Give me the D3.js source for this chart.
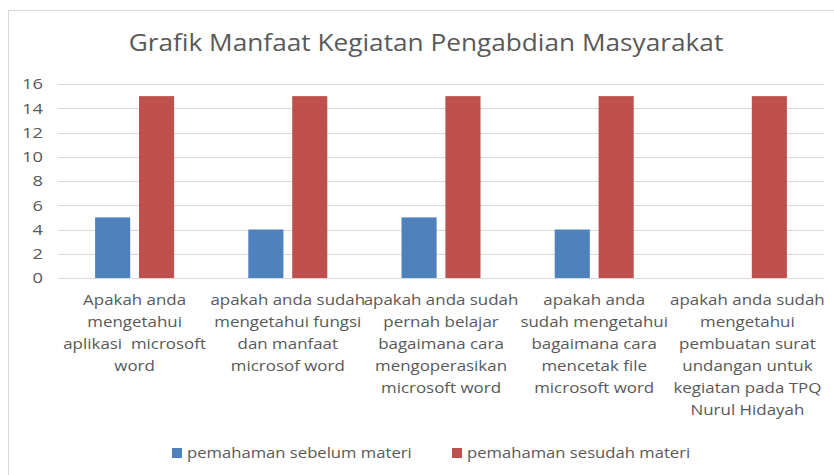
<html>
<script src="https://d3js.org/d3.v7.min.js"></script>
<style>
  body { margin: 0; background: #fff; }
  text { font-family: "Open Sans", sans-serif; fill: #595959; }
</style>
<svg id="chart" width="834" height="475"></svg>
<script>
var categories = [
  "Apakah anda\nmengetahui\naplikasi  microsoft\nword",
  "apakah anda sudah\nmengetahui fungsi\ndan manfaat\nmicrosof word",
  "apakah anda sudah\npernah belajar\nbagaimana cara\nmengoperasikan\nmicrosoft word",
  "apakah anda\nsudah mengetahui\nbagaimana cara\nmencetak file\nmicrosoft word",
  "apakah anda sudah\nmengetahui\npembuatan surat\nundangan untuk\nkegiatan pada TPQ\nNurul Hidayah"
];
var seriesNames = ["pemahaman sebelum materi", "pemahaman sesudah materi"];
var sebelum = [5, 4, 5, 4, 0];
var sesudah = [15, 15, 15, 15, 15];
var colors = ["#4f81bd", "#c0504d"];
var yTicks = [0, 2, 4, 6, 8, 10, 12, 14, 16];
var title = "Grafik Manfaat Kegiatan Pengabdian Masyarakat";

var svg = d3.select("#chart");

// chart border (only top and left visible in the picture)
svg.append("rect")
  .attr("x", 8.5).attr("y", 10.5)
  .attr("width", 900).attr("height", 600)
  .attr("fill", "none").attr("stroke", "#d9d9d9");

var x = d3.scaleBand().domain(d3.range(categories.length)).range([58, 824]);
var x1 = d3.scaleBand().domain([0, 1])
  .range([x.bandwidth() / 2 - 39.5, x.bandwidth() / 2 + 39.5])
  .paddingInner(0.2);
var y = d3.scaleLinear().domain([0, 16]).range([278, 84]);

// gridlines
svg.append("g").selectAll("line").data(yTicks).enter().append("line")
  .attr("x1", 58).attr("x2", 824)
  .attr("y1", function(d) { return Math.round(y(d)) + 0.5; })
  .attr("y2", function(d) { return Math.round(y(d)) + 0.5; })
  .attr("stroke", "#d9d9d9");

// y labels (the picture is stretched sideways, so text is too)
var yAxis = d3.axisLeft(y).tickValues(yTicks).tickSize(0).tickPadding(0);
var ya = svg.append("g").attr("transform", "translate(43,0)").call(yAxis);
ya.select(".domain").remove();
ya.selectAll(".tick text")
  .attr("transform", "scale(1.22,1)")
  .style("font-size", "15px").attr("fill", "#595959")
  .style("font-family", "'Open Sans', sans-serif");

// bars
var data = [sebelum, sesudah];
data.forEach(function(vals, s) {
  svg.append("g").selectAll("rect").data(vals).enter().append("rect")
    .attr("x", function(d, i) { return x(i) + x1(s); })
    .attr("width", x1.bandwidth())
    .attr("y", function(d) { return y(d); })
    .attr("height", function(d) { return y(0) - y(d); })
    .attr("fill", colors[s]);
});

// category labels
categories.forEach(function(c, i) {
  var t = svg.append("text")
    .attr("text-anchor", "middle")
    .attr("transform", "translate(" + (x(i) + x.bandwidth() / 2) + ",305) scale(1.21,1)")
    .style("font-size", "14px");
  c.split("\n").forEach(function(line, k) {
    t.append("tspan").attr("x", 0).attr("y", k * 22).attr("xml:space", "preserve").text(line);
  });
});

// title
svg.append("text")
  .attr("transform", "translate(426,51) scale(1.14,1)")
  .attr("text-anchor", "middle")
  .style("font-size", "23px")
  .text(title);

// legend
var legX = [172, 452];
seriesNames.forEach(function(n, s) {
  svg.append("rect").attr("x", legX[s]).attr("y", 448)
    .attr("width", 10).attr("height", 10).attr("fill", colors[s]);
  svg.append("text")
    .attr("transform", "translate(" + (legX[s] + 15) + ",457.5) scale(1.19,1)")
    .style("font-size", "14px").text(n);
});
</script>
</html>
